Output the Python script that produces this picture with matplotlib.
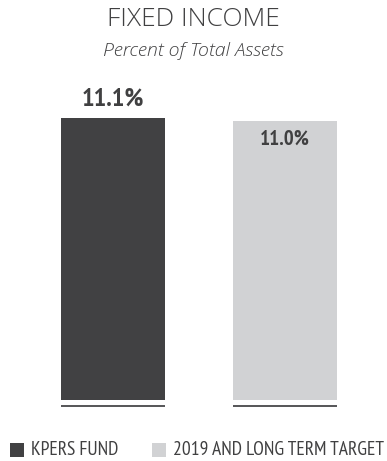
import matplotlib
matplotlib.use("Agg")
import matplotlib.pyplot as plt
from matplotlib.patches import Rectangle

categories = ["KPERS FUND", "2019 AND LONG TERM TARGET"]
values = [11.1, 11.0]
value_labels = ["11.1%", "11.0%"]
colors = ["#414143", "#D1D2D4"]
title = "FIXED INCOME"
subtitle = "Percent of Total Assets"

W, H = 387, 461
fig = plt.figure(figsize=(W / 100, H / 100), dpi=100)
fig.patch.set_facecolor("white")

narrow = ["PT Sans Narrow", "DejaVu Sans"]
light = ["Open Sans", "DejaVu Sans"]
text_color = "#404041"

ax = fig.add_axes([0, 1 - 400 / H, 1, 282 / H])
ax.set_xlim(-113 / 172, 1 + 102 / 172)
ax.set_ylim(0, 11.1)
ax.axis("off")

width = 104 / 172
xs = list(range(len(values)))
ax.bar(xs, values, width=width, color=colors, edgecolor="none")

# separator lines beneath bars
for x in xs:
    ax.plot([x - width / 2, x + width / 2], [-5.5 / 25.4, -5.5 / 25.4],
            color="#555557", lw=1.4, solid_capstyle="butt", clip_on=False)

# value labels
ax.text(xs[0], values[0] + 19 / 25.4, value_labels[0], ha="center", va="center",
        fontsize=19, fontweight="bold", color=text_color, family=narrow)
ax.text(xs[1], values[1] - 19 / 25.4, value_labels[1], ha="center", va="center",
        fontsize=15, fontweight="bold", color=text_color, family=narrow)

# titles
fig.text(0.5, 1 - 20 / H, title, ha="center", va="center", fontsize=19,
         fontweight="light", color=text_color, family=light)
fig.text(0.5, 1 - 51 / H, subtitle, ha="center", va="center", fontsize=14,
         style="italic", fontweight="light", color=text_color, family=light)

# legend
leg_x = [10, 152]
for lx, lab, c in zip(leg_x, categories, colors):
    fig.patches.append(Rectangle((lx / W, 1 - 457 / H), 14 / W, 14 / H,
                                 transform=fig.transFigure, color=c, lw=0))
    fig.text((lx + 21) / W, 1 - 450 / H, lab, ha="left", va="center",
             fontsize=14, color=text_color, family=narrow)

fig.savefig("out.png", dpi=100, facecolor="white")
